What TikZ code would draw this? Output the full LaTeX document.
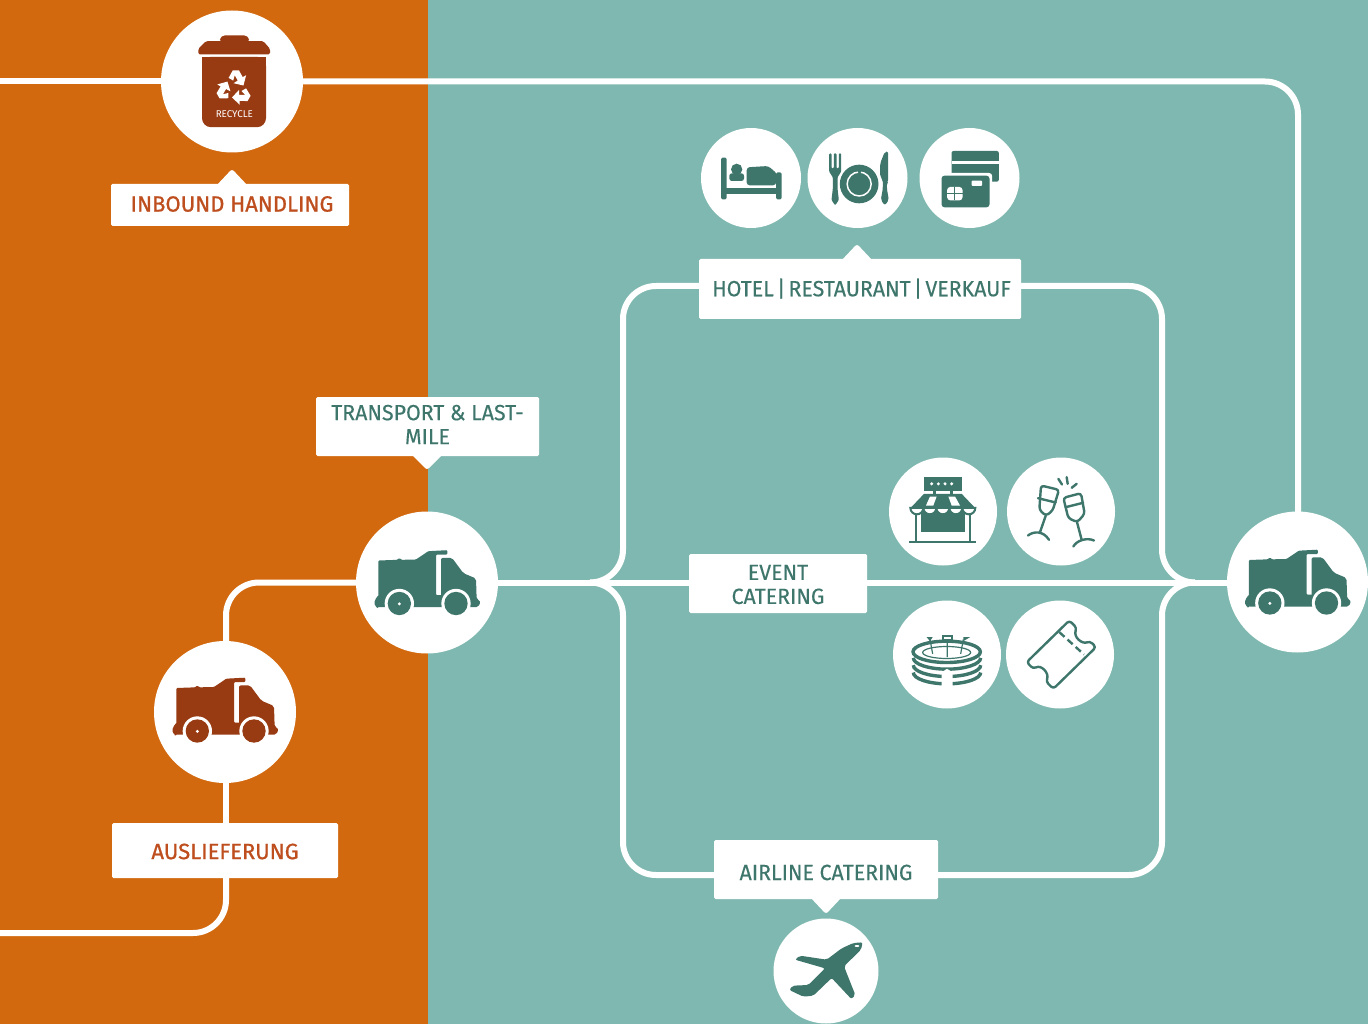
\documentclass[tikz,border=0pt]{standalone}
\usepackage{fontspec}
\setmainfont{Fira Sans}
\newfontfamily\tealfont[FakeStretch=0.97,FakeBold=0.25]{Fira Sans}
\newfontfamily\rustfont[FakeBold=0.9]{Fira Sans}
\pgfdeclarelayer{bg}\pgfdeclarelayer{wires}
\pgfsetlayers{bg,wires,main}
\definecolor{orangebg}{HTML}{D2690F}
\definecolor{tealbg}{HTML}{7FB8B0}
\definecolor{tealdk}{HTML}{3E766C}
\definecolor{rustdk}{HTML}{983A12}
\definecolor{rusttx}{HTML}{BE4E1E}
\tikzset{
  wire/.style={draw=white,line width=6pt,rounded corners=33pt,line join=round},
  disc/.style={circle,fill=white,inner sep=0pt,minimum size=#1},
  tag/.style={rectangle,fill=white,rounded corners=1.5pt,inner sep=0pt},
  tealtext/.style={text=tealdk,align=center,font=\tealfont\fontsize{22}{24}\selectfont},
  rusttext/.style={text=rusttx,align=center,font=\rustfont\fontsize{22}{24}\selectfont},
  tip/.style={fill=white,rounded corners=2.5pt},
  iconframe/.style={x=0.33333pt,y=-0.33333pt},
  pics/truck/.style={code={
    \begin{scope}[iconframe,shift={(-231,-234)}]
      \fill[#1,rounded corners=3pt] (88,312) -- (88,268) -- (72,290) -- (76,308) -- cycle;
      \fill[#1,rounded corners=1pt] (85,308) -- (85,168) -- (142,166) -- (148,160) -- (154,166) -- (198,165) -- (235,140) -- (292,137) -- (292,150) -- (258,150) -- (258,272) -- (285,272) -- (285,308) -- cycle;
      \fill[#1,rounded corners=2pt] (273,160) -- (306,160) -- (340,206) -- (378,222) -- (380,285) -- (392,290) -- (385,308) -- (273,308) -- cycle;
      \fill[white] (148,297) circle[radius=44];
      \fill[white] (318,297) circle[radius=44];
      \fill[#1] (148,297) circle[radius=35];
      \fill[#1] (318,297) circle[radius=35];
      \fill[white] (148,298) circle[radius=5];
    \end{scope}}},
  pics/trash/.style={code={
    \begin{scope}[iconframe,shift={(-396,-246)}]
      \fill[rustdk,rounded corners=4pt] (358,130) -- (362,108) -- (445,108) -- (449,130) -- cycle;
      \fill[rustdk,rounded corners=1.5pt] (295,165) -- (295,148) -- (318,125) -- (490,125) -- (510,148) -- (510,165) -- cycle;
      \fill[rustdk,rounded corners=9pt] (306,172) -- (498,172) -- (498,383) -- (306,383) -- cycle;
      \fill[rustdk] (306,172) rectangle (498,200);
      \foreach \a in {0,120,240}{
        \begin{scope}[shift={(403,266)},rotate=\a,scale=1.14]
          \fill[white] (-15,-27) -- (-4,-47) -- (12,-47) -- (22,-29) -- (31,-34) -- (24,-7) -- (-2,-13) -- (9,-20) -- (1,-34) -- (-3,-20) -- cycle;
        \end{scope}
      }
      \node[text=white,inner sep=0pt,font=\fontsize{9.8}{10}\selectfont] (trashword) at (403,344) {RECYCLE};
    \end{scope}}},
  pics/bed/.style={code={
    \begin{scope}[iconframe,shift={(-183,-174)},tealdk]
      \fill[rounded corners=1.5pt] (93,113) rectangle (110,238);
      \fill[rounded corners=1.5pt] (258,157) rectangle (275,238);
      \fill (105,205) rectangle (262,222);
      \fill (140,148) circle[radius=17];
      \fill[rounded corners=2.5pt] (118,183) -- (118,160) -- (162,160) -- (162,183) -- cycle;
      \fill[rounded corners=3pt] (170,196) -- (170,142) -- (235,138) -- (262,162) -- (258,196) -- cycle;
    \end{scope}}},
  pics/plate/.style={code={
    \begin{scope}[iconframe,shift={(-500,-174)},tealdk]
      \fill[rounded corners=1pt] (415,100) -- (422,100) -- (422,145) -- (429,145) -- (429,100) -- (437,100) -- (437,145) -- (444,145) -- (444,100) -- (451,100) -- (451,155) -- (440,172) -- (440,205) -- (444,240) -- (433,256) -- (422,240) -- (426,205) -- (426,172) -- (415,155) -- cycle;
      \fill (505,192) circle[radius=58];
      \draw[white,line width=1.5pt,dash pattern=on 55pt off 3pt] (505,192) circle[radius=36];
      \fill[rounded corners=2pt] (592,95) -- (592,185) -- (588,190) -- (588,205) -- (594,240) -- (582,256) -- (570,240) -- (576,205) -- (576,180) -- (568,170) -- (568,130) -- (582,95) -- cycle;
    \end{scope}}},
  pics/cards/.style={code={
    \begin{scope}[iconframe,shift={(-837,-174)},tealdk]
      \fill[rounded corners=2pt] (783,93) rectangle (925,185);
      \fill[white] (783,124) rectangle (925,132);
      \fill[white,rounded corners=3pt] (745,159) rectangle (905,270);
      \fill[rounded corners=3pt] (753,167) rectangle (897,262);
      \fill[white,rounded corners=1pt] (843,182) rectangle (875,198);
      \fill[white,rounded corners=3pt] (770,201) rectangle (816,241);
      \draw[tealdk,line width=1.2pt] (793,201) -- (793,241) (770,221) -- (816,221);
    \end{scope}}},
  pics/store/.style={code={
    \begin{scope}[iconframe,shift={(-189,-183)},tealdk]
      \fill (132,78) rectangle (245,120);
      \foreach \x in {155,175,195,215}{\fill[white] (\x,100) circle[radius=5];}
      \fill (160,118) rectangle (168,132);
      \fill (210,118) rectangle (218,132);
      \fill (132,130) -- (245,130) -- (285,172) -- (92,172) -- cycle;
      \fill[white] (150,138) -- (170,138) -- (160,165) -- (138,165) -- cycle;
      \fill[white] (205,138) -- (225,138) -- (240,165) -- (215,165) -- cycle;
      \fill (122,176) rectangle (255,243);
      \draw[line width=1.6pt] (108,190) -- (108,275) (270,190) -- (270,275);
      \draw[line width=1.8pt] (88,275) -- (288,275);
      \foreach \x in {111,150,189,228,267}{
        \filldraw[fill=white,line width=2pt] (\x-20,172) arc[start angle=180,end angle=0,radius=19.5] -- cycle;}
    \end{scope}}},
  pics/cheers/.style={code={
    \begin{scope}[iconframe,shift={(-543,-183)},tealdk,line width=2.4pt,line cap=round,line join=round]
      \draw[rounded corners=3pt] (483,105) -- (537,118) -- (518,180) -- (498,196) -- (478,178) -- cycle;
      \draw (474,143) -- (527,156);
      \draw (497,196) -- (480,245);
      \draw (444,255) .. controls (460,242) and (490,240) .. (507,268);
      \draw[rounded corners=3pt] (550,142) -- (603,128) -- (614,190) -- (592,215) -- (565,203) -- cycle;
      \draw (557,170) -- (609,157);
      \draw (591,215) -- (605,268);
      \draw (580,288) .. controls (590,270) and (620,260) .. (642,270);
      \draw (535,85) -- (546,102) (560,80) -- (563,100) (590,100) -- (575,112);
    \end{scope}}},
  pics/stadium/.style={code={
    \begin{scope}[iconframe,shift={(-201,-612)},tealdk]
      \foreach \y in {622,644,666}{
        \draw[line width=3.4pt] (100,\y) arc[start angle=180,end angle=0,x radius=101,y radius=34];}
      \draw[line width=3.4pt] (200,604) ellipse[x radius=101,y radius=32];
      \draw[line width=1.2pt] (200,606) ellipse[x radius=72,y radius=18];
      \draw[line width=1.2pt] (150,567) -- (158,610) (250,567) -- (242,610) (202,570) -- (202,620);
      \fill (140,560) -- (158,560) -- (150,572) -- cycle;
      \fill (250,560) -- (270,560) -- (250,572) -- cycle;
      \fill (185,552) rectangle (220,572);
      \fill[white] (193,558) rectangle (212,565);
      \fill[white] (185,665) -- (201,655) -- (218,665) -- (218,715) -- (185,715) -- cycle;
    \end{scope}}},
  pics/ticket/.style={code={
    \begin{scope}[iconframe,shift={(-540,-612)},tealdk]
      \draw[line width=2.4pt,rounded corners=3pt,line join=round] (568,510) -- (590,532) .. controls (580,560) and (606,582) .. (630,572) -- (648,590) -- (520,715) -- (498,693) .. controls (508,668) and (484,642) .. (460,655) -- (440,635) -- cycle;
      \draw[line width=2.4pt,dash pattern=on 7pt off 4pt] (538,545) -- (612,612);
    \end{scope}}},
  pics/plane/.style={code={
    \begin{scope}[iconframe,shift={(-348,-426)},tealdk]
      \fill[rounded corners=2pt] (458,340) -- (453,362) -- (402,412) -- (436,498) -- (424,510) -- (365,447) -- (310,500) -- (280,503) -- (238,483) -- (248,470) -- (295,468) -- (345,418) -- (255,392) -- (270,380) -- (350,392) -- (395,358) -- (430,342) -- cycle;
      \fill[white] (441,351) ellipse[x radius=7,y radius=3];
    \end{scope}}},
}
\begin{document}
\begin{tikzpicture}[x=1pt,y=-1pt]
\useasboundingbox (0,0) rectangle (1368,1024);
\begin{pgfonlayer}{bg}
  \fill[orangebg] (0,0) rectangle (427.5,1024);
  \fill[tealbg] (427.5,0) rectangle (1368,1024);
\end{pgfonlayer}

% discs
\node[disc=142pt] (recycle) at (232,81.5) {};
\node[disc=100pt] (hotelic) at (751,178) {};
\node[disc=100pt] (foodic) at (857.5,178) {};
\node[disc=100pt] (cardic) at (969.5,178) {};
\node[disc=108pt] (storeic) at (943,511.5) {};
\node[disc=108pt] (glassic) at (1061,511.5) {};
\node[disc=108pt] (stadic) at (947,654.5) {};
\node[disc=108pt] (tickic) at (1060,654.5) {};
\node[disc=142pt] (truckM) at (427,582.5) {};
\node[disc=141pt] (truckR) at (1297.5,582) {};
\node[disc=142pt] (truckL) at (225,712) {};
\node[disc=105pt] (planeic) at (826,971) {};

% tags
\node[tag,minimum width=238pt,minimum height=42pt,label={[rusttext,xshift=2pt,yshift=1pt]center:INBOUND HANDLING}] (inbound) at (230,205) {};
\node[tag,minimum width=322pt,minimum height=60pt,label={[tealtext,xshift=1.5pt,yshift=0.5pt]center:HOTEL\hspace{0.14em}|\hspace{0.14em}RESTAURANT\hspace{0.14em}|\hspace{0.14em}VERKAUF}] (hotel) at (860,289) {};
\node[tag,minimum width=223pt,minimum height=59pt,label={[tealtext,yshift=2pt]center:{TRANSPORT \& LAST-\\MILE}}] (transport) at (427.5,426.5) {};
\node[tag,minimum width=178pt,minimum height=59pt,label={[tealtext,yshift=-1pt]center:{EVENT\\CATERING}}] (event) at (778,583.5) {};
\node[tag,minimum width=226pt,minimum height=55pt,label={[rusttext,yshift=-1pt]center:AUSLIEFERUNG}] (auslief) at (225,850.5) {};
\node[tag,minimum width=224pt,minimum height=59pt,label={[tealtext,yshift=-3pt]center:AIRLINE CATERING}] (airline) at (826,869.5) {};

% tag pointers
\fill[tip] (216,186) -- (232,169) -- (248,186) -- cycle;
\fill[tip] (841,261) -- (857,244) -- (873,261) -- cycle;
\fill[tip] (411,454) -- (427,470) -- (443,454) -- cycle;
\fill[tip] (810,897) -- (826,914) -- (842,897) -- cycle;

% icons
\pic at (recycle) {trash};
\pic at (hotelic) {bed};
\pic at (foodic) {plate};
\pic at (cardic) {cards};
\pic at (storeic) {store};
\pic at (glassic) {cheers};
\pic at (stadic) {stadium};
\pic at (tickic) {ticket};
\pic at (truckM) {truck=tealdk};
\pic at (truckR) {truck=tealdk};
\pic at ([yshift=2pt]truckL) {truck=rustdk};
\pic at (planeic) {plane};

% connectors
\coordinate (inL) at (0,81.5);
\coordinate (outL) at (0,933);
\coordinate (lowC) at (226,933);
\coordinate (upC) at (226,582.5);
\coordinate (topR) at (1298,81.5);
\coordinate (jL) at (590,582.5);
\coordinate (jLm) at (623,582.5);
\coordinate (jRm) at (1162,582.5);
\coordinate (jR) at (1195,582.5);
\coordinate (cTL) at (623,286);
\coordinate (cTR) at (1162,286);
\coordinate (cBL) at (623,875);
\coordinate (cBR) at (1162,875);
\begin{pgfonlayer}{wires}
  \draw[wire] (inL) -- (recycle.center);
  \draw[wire] (recycle.center) -- (topR) -- (truckR.center -| topR);
  \draw[wire] (outL) -- (lowC) -- (lowC |- auslief.center);
  \draw[wire] (lowC |- auslief.center) -- (lowC |- truckL.center);
  \draw[wire] (lowC |- truckL.center) -- (upC) -- (truckM.center |- upC);
  \draw[wire] (truckM.center |- upC) -- (event.center |- upC);
  \draw[wire] (event.center |- upC) -- (truckR.center |- upC);
  \draw[wire] (jL) -- (jLm) -- (cTL) -- (hotel.center |- cTL);
  \draw[wire] (hotel.center |- cTR) -- (cTR) -- (jRm) -- (jR);
  \draw[wire] (jL) -- (jLm) -- (cBL) -- (airline.center |- cBL);
  \draw[wire] (airline.center |- cBR) -- (cBR) -- (jRm) -- (jR);
\end{pgfonlayer}
\end{tikzpicture}
\end{document}
